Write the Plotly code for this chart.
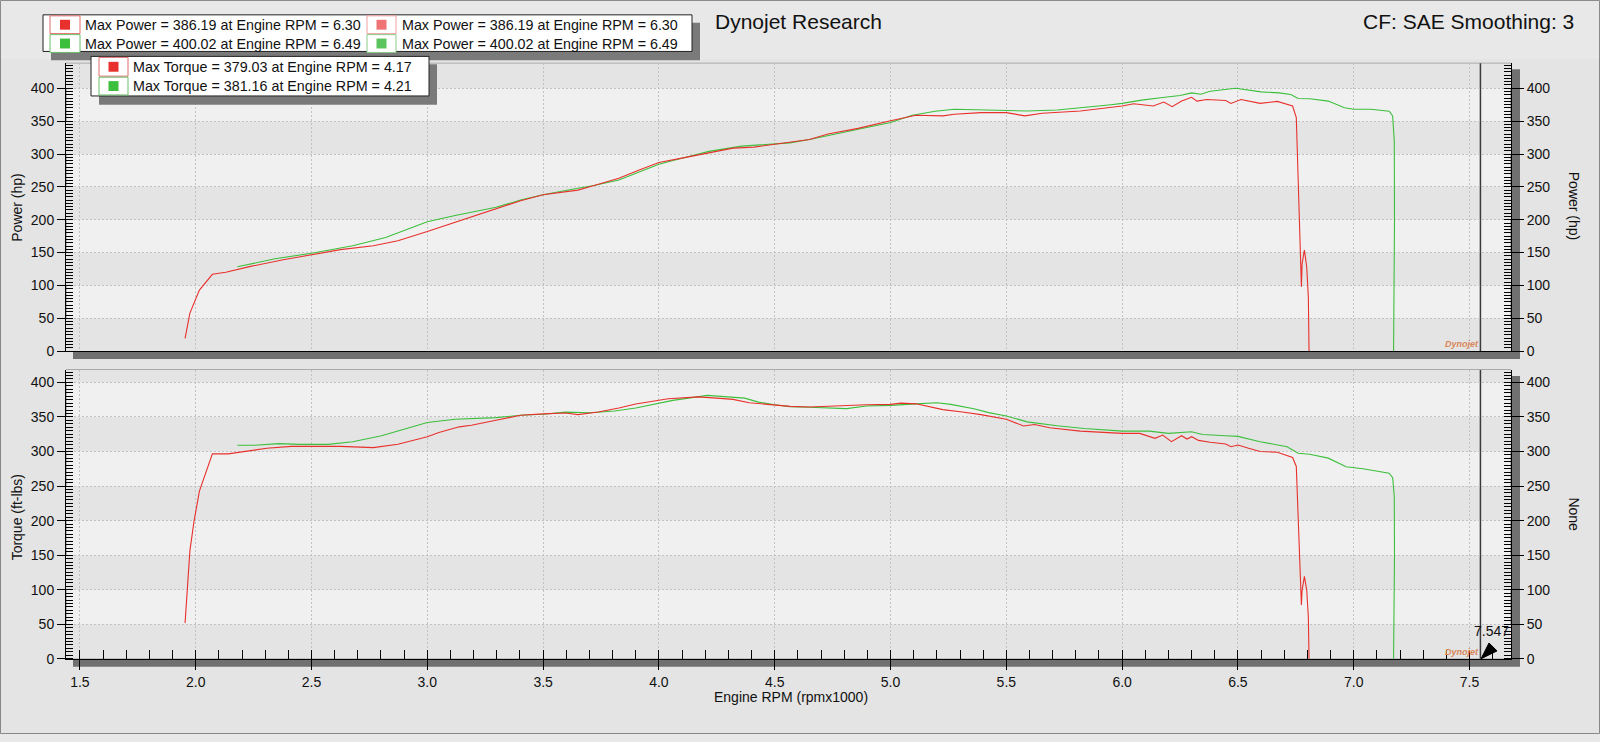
import plotly.graph_objects as go

# ---------------- data ----------------
rpm_power_red = [1.954, 1.975, 2.016, 2.072, 2.13, 2.237, 2.378, 2.5, 2.625, 2.767, 2.873, 3.0, 3.155, 3.297,
                 3.403, 3.5, 3.65, 3.72, 3.827, 3.915, 4.0, 4.11, 4.216, 4.32, 4.41, 4.5, 4.566, 4.65, 4.73,
                 4.86, 5.0, 5.11, 5.226, 5.275, 5.39, 5.5, 5.58, 5.655, 5.82, 6.0, 6.05, 6.134, 6.18, 6.216,
                 6.257, 6.3, 6.323, 6.365, 6.447, 6.47, 6.513, 6.596, 6.67, 6.736, 6.752, 6.76, 6.769, 6.774,
                 6.777, 6.787, 6.797, 6.804, 6.807]
hp_red = [19.5, 58, 93, 117, 120, 129, 139, 147, 154.5, 160.5, 168, 182, 200.5, 217,
          229, 238, 245, 252, 263, 275.5, 287, 294.5, 302, 309, 310.5, 314.5, 318, 322, 330.5,
          339, 350.5, 359, 358, 360.5, 363, 363, 358, 362, 365.5, 373, 376.5, 373, 379, 372,
          380.5, 386.2, 380.5, 383, 381.5, 377, 383, 377, 380, 373, 355.5, 263, 163, 98,
          133, 154, 128, 83, 0]

rpm_power_green = [2.18, 2.343, 2.5, 2.678, 2.82, 3.0, 3.12, 3.297, 3.403, 3.5, 3.65, 3.72, 3.827, 4.0,
                   4.07, 4.216, 4.357, 4.5, 4.566, 4.65, 4.81, 5.0, 5.094, 5.193, 5.275, 5.5, 5.59, 5.72,
                   5.837, 5.952, 6.0, 6.084, 6.166, 6.25, 6.3, 6.34, 6.38, 6.49, 6.6, 6.678, 6.728, 6.76,
                   6.81, 6.89, 6.96, 7.0, 7.074, 7.153, 7.168, 7.175, 7.176, 7.174, 7.172]
hp_green = [128.5, 140.5, 149, 160.5, 173, 197, 206.5, 219, 230, 238, 248, 252, 260.5, 284.5,
            291, 304, 312, 315.5, 317, 322, 334, 348, 359, 365, 368, 367, 365.5, 367,
            370.5, 375, 377, 382, 385.5, 389, 393, 391, 395.5, 400, 394.5, 393, 390.5, 384.5,
            384, 380.5, 370.5, 368, 368, 365, 358, 320, 200, 100, 0]

rpm_torque_red = [1.954, 1.975, 1.993, 2.016, 2.072, 2.14, 2.307, 2.413, 2.5, 2.625, 2.767, 2.873, 3.0, 3.05,
                  3.138, 3.19, 3.297, 3.403, 3.5, 3.597, 3.65, 3.738, 3.827, 3.9, 4.04, 4.17, 4.25, 4.32,
                  4.39, 4.5, 4.566, 4.65, 4.73, 4.896, 5.0, 5.045, 5.11, 5.226, 5.31, 5.39, 5.5, 5.574,
                  5.622, 5.687, 5.82, 6.0, 6.076, 6.142, 6.175, 6.213, 6.257, 6.28, 6.3, 6.33, 6.38,
                  6.447, 6.47, 6.5, 6.546, 6.596, 6.67, 6.736, 6.752, 6.76, 6.769, 6.774, 6.777, 6.787,
                  6.797, 6.804, 6.807]
tq_red = [51.6, 156.6, 199.6, 242.6, 296.6, 296.6, 304.7, 307.5, 307.5, 307.5, 305.6, 310.4, 321.4, 327.6,
          335.7, 338, 345.3, 352.4, 354.4, 355.8, 353.4, 357.2, 363, 368.7, 376.3, 379.0, 377.3, 375.4,
          370.6, 366.8, 365.3, 364.5, 365.8, 367.7, 368.2, 370, 369, 360.6, 357.2, 353.4, 346.7, 337,
          339, 334.3, 329.5, 326.2, 326.2, 319, 323.8, 314.2, 322.8, 318, 321.4, 316.1, 313.3,
          310.9, 307, 309.5, 304.7, 300, 299, 291.3, 278.4, 209, 128, 77.8, 99.3, 119.4,
          99.3, 61, 0]

rpm_torque_green = [2.18, 2.254, 2.36, 2.449, 2.572, 2.678, 2.802, 2.908, 3.0, 3.12, 3.297, 3.403, 3.5, 3.597,
                    3.703, 3.809, 3.9, 4.06, 4.21, 4.37, 4.43, 4.5, 4.566, 4.65, 4.81, 4.896, 5.0, 5.11,
                    5.2, 5.26, 5.36, 5.424, 5.5, 5.59, 5.72, 5.837, 6.0, 6.117, 6.2, 6.3, 6.347, 6.447,
                    6.5, 6.596, 6.712, 6.76, 6.81, 6.89, 6.967, 7.04, 7.153, 7.168, 7.175, 7.176, 7.172]
tq_green = [309, 309, 311.4, 310.4, 310.4, 314.2, 322.8, 333.3, 342, 346.7, 349, 352.4, 354, 357,
            356.2, 358.6, 363, 374, 381.2, 377.3, 371.5, 367.7, 364.9, 364, 362, 365.8, 366.8, 369,
            370.6, 368.2, 362, 356.3, 351.5, 342.9, 337.2, 333.3, 329.5, 329.5, 326.2, 328.6, 324.7, 322.8,
            321.9, 314.2, 307, 297.5, 296, 290.4, 278, 275, 268.5, 262, 235, 150, 0]

legend_power = ["Max Power = 386.19 at Engine RPM = 6.30", "Max Power = 400.02 at Engine RPM = 6.49"]
legend_torque = ["Max Torque = 379.03 at Engine RPM = 4.17", "Max Torque = 381.16 at Engine RPM = 4.21"]
cursor_rpm = 7.547
title_left = "Dynojet Research"
title_right = "CF: SAE Smoothing: 3"

# ---------------- styling ----------------
W, H = 1600, 742
FONT = "Liberation Sans"
RED = "#e8302c"
GREEN = "#3cbf3c"


def PX(x):
    return x / W


def PY(y):
    return 1 - y / H


LEFT, RIGHT = 66, 1511
top_dom = [PY(355), PY(64)]
bot_dom = [PY(666), PY(374)]
x_dom = [PX(LEFT), PX(RIGHT)]
xr = [1.44, 7.679]
top_range = [0, 438]
bot_range = [0, 418]

fig = go.Figure()
fig.add_trace(go.Scatter(x=rpm_power_green, y=hp_green, mode="lines", line=dict(color=GREEN, width=1.1),
                         xaxis="x", yaxis="y", showlegend=False, hoverinfo="skip"))
fig.add_trace(go.Scatter(x=rpm_power_red, y=hp_red, mode="lines", line=dict(color=RED, width=1.1),
                         xaxis="x", yaxis="y", showlegend=False, hoverinfo="skip"))
fig.add_trace(go.Scatter(x=rpm_torque_green, y=tq_green, mode="lines", line=dict(color=GREEN, width=1.1),
                         xaxis="x2", yaxis="y2", showlegend=False, hoverinfo="skip"))
fig.add_trace(go.Scatter(x=rpm_torque_red, y=tq_red, mode="lines", line=dict(color=RED, width=1.1),
                         xaxis="x2", yaxis="y2", showlegend=False, hoverinfo="skip"))
# invisible traces so the right-hand axes are drawn
fig.add_trace(go.Scatter(x=[xr[0]], y=[0], mode="markers", marker=dict(opacity=0), xaxis="x", yaxis="y3",
                         showlegend=False, hoverinfo="skip"))
fig.add_trace(go.Scatter(x=[xr[0]], y=[0], mode="markers", marker=dict(opacity=0), xaxis="x2", yaxis="y4",
                         showlegend=False, hoverinfo="skip"))

grid = dict(showgrid=True, gridcolor="#c2c2c2", griddash="2px,2px", gridwidth=1)
tickfont = dict(family=FONT, size=14, color="#111")

xcommon = dict(range=xr, domain=x_dom, tick0=1.5, dtick=0.5, showline=True, linecolor="black",
               linewidth=1, zeroline=False, **grid)

ycommon = dict(dtick=50, tick0=0, showline=True, linecolor="black", linewidth=1, zeroline=False,
               tickcolor="black", tickfont=tickfont,
               minor=dict(dtick=5, tick0=0, ticks="inside", ticklen=7, tickcolor="black", showgrid=False))

fig.update_layout(
    width=W, height=H,
    margin=dict(l=0, r=0, t=0, b=0),
    paper_bgcolor="#e8e8e8",
    plot_bgcolor="rgba(0,0,0,0)",
    font=dict(family=FONT, size=14, color="#111"),
    showlegend=False,
    xaxis=dict(anchor="y", showticklabels=False, ticks="", **xcommon),
    xaxis2=dict(anchor="y2", matches="x", ticks="outside", ticklen=10, tickcolor="black",
                tickformat=".1f", tickfont=tickfont,
                minor=dict(dtick=0.1, tick0=1.5, ticks="inside", ticklen=9, tickcolor="black", showgrid=False),
                **xcommon),
    yaxis=dict(domain=top_dom, anchor="x", range=top_range, ticks="outside", ticklen=8, **grid, **ycommon),
    yaxis2=dict(domain=bot_dom, anchor="x2", range=bot_range, ticks="outside", ticklen=8, **grid, **ycommon),
    yaxis3=dict(overlaying="y", side="right", anchor="x", range=top_range, ticks="outside", ticklen=12,
                showgrid=False, **ycommon),
    yaxis4=dict(overlaying="y2", side="right", anchor="x2", range=bot_range, ticks="outside", ticklen=12,
                showgrid=False, **ycommon),
)

shapes = []
# outer border
shapes.append(dict(type="rect", xref="paper", yref="paper", x0=PX(0.5), x1=PX(1599.5), y0=PY(741.5), y1=PY(0.5),
                   line=dict(color="#8a8a8a", width=1), fillcolor="rgba(0,0,0,0)", layer="below"))
# subtle background gradient approximation
shapes.append(dict(type="rect", xref="paper", yref="paper", x0=0, x1=1, y0=PY(742), y1=PY(60),
                   line=dict(width=0), fillcolor="rgba(0,0,0,0.015)", layer="below"))

for xa, ya, rng, (top, bot) in [("x", "y", top_range, (64, 355)), ("x2", "y2", bot_range, (374, 666))]:
    # drop shadow
    shapes.append(dict(type="rect", xref="paper", yref="paper", x0=PX(LEFT + 7), x1=PX(RIGHT + 9),
                       y0=PY(bot + 8), y1=PY(top + 6), line=dict(width=0), fillcolor="#707070", layer="below"))
    # plot area
    shapes.append(dict(type="rect", xref=xa + " domain", yref=ya + " domain", x0=0, x1=1, y0=0, y1=1,
                       line=dict(color="#7a7a7a", width=1), fillcolor="#f0f0f0", layer="below"))
    # darker bands
    for lo in [0, 100, 200, 300, 400]:
        shapes.append(dict(type="rect", xref=xa + " domain", yref=ya, x0=0, x1=1, y0=lo,
                           y1=min(lo + 50, rng[1]), line=dict(width=0), fillcolor="#e4e4e4", layer="below"))
    # cursor line
    shapes.append(dict(type="line", xref=xa, yref=ya + " domain", x0=cursor_rpm, x1=cursor_rpm, y0=0, y1=1,
                       line=dict(color="#3a3a3a", width=1.5), layer="below"))

# cursor pointer
shapes.append(dict(type="path", xref="paper", yref="paper",
                   path=f"M {PX(1481)},{PY(666)} L {PX(1489)},{PY(650)} L {PX(1497)},{PY(658)} Z",
                   fillcolor="black", line=dict(color="black", width=1)))


# legend boxes
def box(x0, y0, x1, y1):
    shapes.append(dict(type="rect", xref="paper", yref="paper", x0=PX(x0 + 8), x1=PX(x1 + 8), y0=PY(y1 + 9),
                       y1=PY(y0 + 8), line=dict(width=0), fillcolor="#7a7a7a"))
    shapes.append(dict(type="rect", xref="paper", yref="paper", x0=PX(x0), x1=PX(x1), y0=PY(y1), y1=PY(y0),
                       line=dict(color="#222", width=1), fillcolor="white"))


def swatch(x0, y0, x1, y1, border, fill):
    shapes.append(dict(type="rect", xref="paper", yref="paper", x0=PX(x0), x1=PX(x1), y0=PY(y1), y1=PY(y0),
                       line=dict(color=border, width=1), fillcolor="white"))
    cx, cy = (x0 + x1) / 2, (y0 + y1) / 2
    shapes.append(dict(type="rect", xref="paper", yref="paper", x0=PX(cx - 5), x1=PX(cx + 5), y0=PY(cy + 5),
                       y1=PY(cy - 5), line=dict(width=0), fillcolor=fill))


box(43, 15, 692, 52)
swatch(50, 16, 80, 34, "#e06a6a", "#e8302c")
swatch(50, 35, 80, 53, "#6abf6a", "#3cbf3c")
swatch(367, 16, 396, 34, "#f0a0a0", "#f07474")
swatch(367, 35, 396, 53, "#8acb8a", "#5cc45c")
box(91, 57, 429, 97)
swatch(99, 58, 128, 77, "#e06a6a", "#e8302c")
swatch(99, 78, 128, 96, "#6abf6a", "#3cbf3c")

fig.update_layout(shapes=shapes)

ann = []


def text(x, y, s, size=14, xanchor="left", angle=0, color="#111", **kw):
    ann.append(dict(x=PX(x), y=PY(y), xref="paper", yref="paper", text=s, showarrow=False, xanchor=xanchor,
                    yanchor="middle", textangle=angle, font=dict(family=FONT, size=size, color=color), **kw))


text(83, 25, legend_power[0], size=14.3)
text(83, 44, legend_power[1], size=14.3)
text(400, 25, legend_power[0], size=14.3)
text(400, 44, legend_power[1], size=14.3)
text(131, 68, legend_torque[0], size=14.3)
text(131, 87, legend_torque[1], size=14.3)
text(713, 22, title_left, size=21)
text(1576, 22, title_right, size=21, xanchor="right")
text(17, 210, "Power (hp)", xanchor="center", angle=-90)
text(17, 523, "Torque (ft-lbs)", xanchor="center", angle=-90)
text(1574, 208, "Power (hp)", xanchor="center", angle=90)
text(1574, 520, "None", xanchor="center", angle=90)
text(791, 705, "Engine RPM (rpmx1000)", xanchor="center")
text(1491, 638, f"{cursor_rpm:.3f}", xanchor="center")
text(1462, 348, "<i><b>Dynojet</b></i>", size=9, xanchor="center", color="#d9875a")
text(1462, 659, "<i><b>Dynojet</b></i>", size=9, xanchor="center", color="#d9875a")
fig.update_layout(annotations=ann)

fig.write_html("out.html")
